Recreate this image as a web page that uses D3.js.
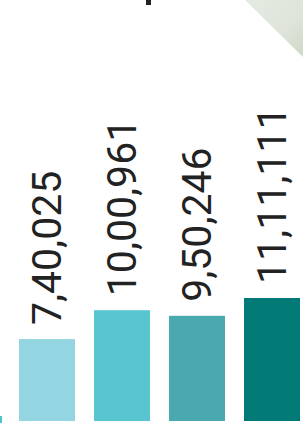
<!DOCTYPE html>
<html>
<head>
<meta charset="utf-8">
<script src="https://cdn.jsdelivr.net/npm/d3@7"></script>
<style>
  body { margin: 0; background: #fff; }
  svg { display: block; }
</style>
</head>
<body>
<script>
// data
var categories = ["A", "B", "C", "D"];
var values = [740025, 1000961, 950246, 1111111];
var valueLabels = ["7,40,025", "10,00,961", "9,50,246", "11,11,111"];
var barColors = ["#94d5e2", "#59c5d0", "#4aa8b0", "#017a77"];

var w = 303, h = 423;

var svg = d3.select("body")
    .append("svg")
    .attr("width", w)
    .attr("height", h);

// photo corner peeking in at top right
var grad = svg.append("defs").append("linearGradient")
    .attr("id", "corner")
    .attr("x1", "0%").attr("y1", "0%")
    .attr("x2", "100%").attr("y2", "100%");
grad.append("stop").attr("offset", "0%").attr("stop-color", "#e4ebe2");
grad.append("stop").attr("offset", "60%").attr("stop-color", "#dfe4da");
grad.append("stop").attr("offset", "100%").attr("stop-color", "#cfd8c8");

svg.append("polygon")
    .attr("points", "245,0 303,0 303,57")
    .attr("fill", "url(#corner)");

// bit of cut-off text at the top
svg.append("rect")
    .attr("x", 146).attr("y", 0)
    .attr("width", 5).attr("height", 5)
    .attr("fill", "#222");

// scales
var xScale = d3.scaleBand()
    .domain(categories)
    .range([9.5, 309.5])
    .paddingInner(0.2533)
    .paddingOuter(0.1267);

var yScale = d3.scaleLinear()
    .domain([0, d3.max(values)])
    .range([421, 298]);

var data = categories.map(function (c, i) {
    return { cat: c, value: values[i], label: valueLabels[i], color: barColors[i] };
});

// bars
svg.selectAll(".bar")
    .data(data)
    .enter()
    .append("rect")
    .attr("class", "bar")
    .attr("x", function (d) { return xScale(d.cat); })
    .attr("y", function (d) { return yScale(d.value); })
    .attr("width", xScale.bandwidth())
    .attr("height", function (d) { return yScale(0) - yScale(d.value); })
    .attr("fill", function (d) { return d.color; });

// rotated value labels
svg.selectAll(".label")
    .data(data)
    .enter()
    .append("text")
    .attr("class", "label")
    .attr("transform", function (d) {
        var cx = xScale(d.cat) + xScale.bandwidth() / 2;
        return "translate(" + cx + "," + (yScale(d.value) - 14) + ") rotate(-90)";
    })
    .attr("dy", "0.35em")
    .style("font-family", "Roboto, sans-serif")
    .style("font-size", "41px")
    .style("fill", "#222")
    .text(function (d) { return d.label; });

// small cyan mark at bottom left
svg.append("rect")
    .attr("x", 0).attr("y", 416)
    .attr("width", 2).attr("height", 7)
    .attr("fill", "#4cc4d0");
</script>
</body>
</html>
